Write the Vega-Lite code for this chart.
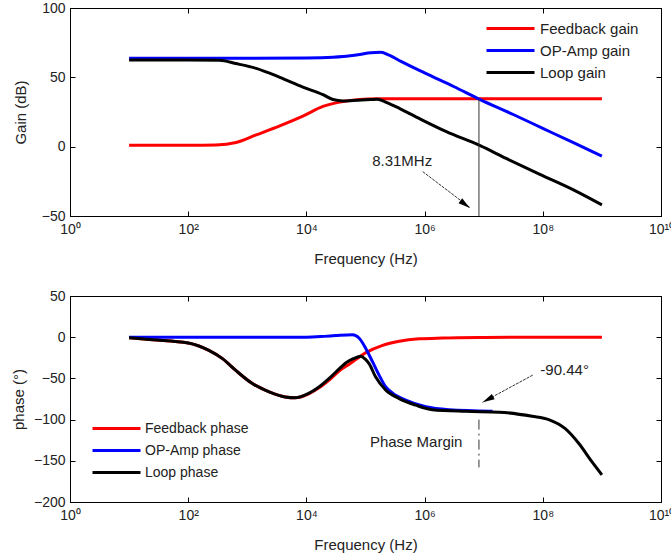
{
  "$schema": "https://vega.github.io/schema/vega-lite/v6.json",
  "padding": {"left": 10, "top": 0, "right": 0, "bottom": 0},
  "background": "white",
  "config": {
    "view": {"stroke": "#000", "strokeWidth": 1},
    "font": "Liberation Sans",
    "axis": {
      "grid": false, "domainColor": "#000", "tickColor": "#000", "tickSize": -5,
      "labelColor": "#222", "titleColor": "#222", "labelFont": "Liberation Sans", "titleFont": "Liberation Sans",
      "labelFontSize": 14, "titleFontSize": 15, "titleFontWeight": "normal", "labelOverlap": false, "labelFlush": false, "labelBound": false
    },
    "legend": {"labelFont": "Liberation Sans", "labelColor": "#222", "labelFontSize": 15, "symbolType": "M-3,0H3", "symbolSize": 256, "symbolStrokeWidth": 3, "labelOffset": 20, "rowPadding": 5, "padding": 0},
    "text": {"font": "Liberation Sans", "fontSize": 15, "color": "#222"}
  },
  "datasets": {
    "gain": [
      {"f": 10, "s": "Feedback gain", "v": 1}, {"f": 100, "s": "Feedback gain", "v": 1}, {"f": 295, "s": "Feedback gain", "v": 1.2}, {"f": 646, "s": "Feedback gain", "v": 3}, {"f": 1413, "s": "Feedback gain", "v": 8.5}, {"f": 3548, "s": "Feedback gain", "v": 15}, {"f": 8710, "s": "Feedback gain", "v": 22}, {"f": 19055, "s": "Feedback gain", "v": 29}, {"f": 41687, "s": "Feedback gain", "v": 32.6}, {"f": 79433, "s": "Feedback gain", "v": 34}, {"f": 158489, "s": "Feedback gain", "v": 34.5}, {"f": 1000000, "s": "Feedback gain", "v": 34.5}, {"f": 10000000, "s": "Feedback gain", "v": 34.5}, {"f": 100000000, "s": "Feedback gain", "v": 34.5}, {"f": 1000000000, "s": "Feedback gain", "v": 34.5},
      {"f": 10, "s": "OP-Amp gain", "v": 63.8}, {"f": 1000, "s": "OP-Amp gain", "v": 63.8}, {"f": 10000, "s": "OP-Amp gain", "v": 64}, {"f": 28184, "s": "OP-Amp gain", "v": 64.5}, {"f": 41687, "s": "OP-Amp gain", "v": 65}, {"f": 79433, "s": "OP-Amp gain", "v": 66.5}, {"f": 123027, "s": "OP-Amp gain", "v": 67.8}, {"f": 181970, "s": "OP-Amp gain", "v": 68}, {"f": 251189, "s": "OP-Amp gain", "v": 66}, {"f": 398107, "s": "OP-Amp gain", "v": 61.5}, {"f": 1000000, "s": "OP-Amp gain", "v": 53.2}, {"f": 3162278, "s": "OP-Amp gain", "v": 43.2}, {"f": 8709636, "s": "OP-Amp gain", "v": 34}, {"f": 31622777, "s": "OP-Amp gain", "v": 23.2}, {"f": 100000000, "s": "OP-Amp gain", "v": 13.2}, {"f": 316227766, "s": "OP-Amp gain", "v": 3.2}, {"f": 1000000000, "s": "OP-Amp gain", "v": -6.8},
      {"f": 10, "s": "Loop gain", "v": 62.5}, {"f": 100, "s": "Loop gain", "v": 62.5}, {"f": 339, "s": "Loop gain", "v": 62.3}, {"f": 631, "s": "Loop gain", "v": 60}, {"f": 1413, "s": "Loop gain", "v": 56.5}, {"f": 3548, "s": "Loop gain", "v": 50}, {"f": 8710, "s": "Loop gain", "v": 43}, {"f": 19055, "s": "Loop gain", "v": 37.5}, {"f": 28184, "s": "Loop gain", "v": 34}, {"f": 41687, "s": "Loop gain", "v": 33}, {"f": 61660, "s": "Loop gain", "v": 33.3}, {"f": 123027, "s": "Loop gain", "v": 34}, {"f": 158489, "s": "Loop gain", "v": 34.2}, {"f": 223872, "s": "Loop gain", "v": 32}, {"f": 380189, "s": "Loop gain", "v": 27.5}, {"f": 933254, "s": "Loop gain", "v": 19}, {"f": 2290868, "s": "Loop gain", "v": 11}, {"f": 8709636, "s": "Loop gain", "v": 0.7}, {"f": 23988329, "s": "Loop gain", "v": -8.5}, {"f": 89125094, "s": "Loop gain", "v": -20}, {"f": 323593657, "s": "Loop gain", "v": -31}, {"f": 1000000000, "s": "Loop gain", "v": -42}
    ],
    "phase": [
      {"f": 10, "s": "Feedback  phase", "v": -0.8}, {"f": 25.1, "s": "Feedback  phase", "v": -3}, {"f": 100, "s": "Feedback  phase", "v": -7}, {"f": 224, "s": "Feedback  phase", "v": -16}, {"f": 380, "s": "Feedback  phase", "v": -26}, {"f": 631, "s": "Feedback  phase", "v": -40}, {"f": 1202, "s": "Feedback  phase", "v": -56}, {"f": 2291, "s": "Feedback  phase", "v": -66}, {"f": 4365, "s": "Feedback  phase", "v": -72.5}, {"f": 6457, "s": "Feedback  phase", "v": -73.5}, {"f": 10715, "s": "Feedback  phase", "v": -69}, {"f": 15849, "s": "Feedback  phase", "v": -62}, {"f": 25119, "s": "Feedback  phase", "v": -51}, {"f": 38905, "s": "Feedback  phase", "v": -39}, {"f": 52481, "s": "Feedback  phase", "v": -33}, {"f": 100000, "s": "Feedback  phase", "v": -19}, {"f": 194984, "s": "Feedback  phase", "v": -10}, {"f": 371535, "s": "Feedback  phase", "v": -5}, {"f": 812831, "s": "Feedback  phase", "v": -2}, {"f": 1995262, "s": "Feedback  phase", "v": -1}, {"f": 10000000, "s": "Feedback  phase", "v": -0.3}, {"f": 100000000, "s": "Feedback  phase", "v": 0}, {"f": 1000000000, "s": "Feedback  phase", "v": 0},
      {"f": 10, "s": "OP-Amp phase", "v": 0}, {"f": 10000, "s": "OP-Amp phase", "v": 0}, {"f": 19953, "s": "OP-Amp phase", "v": 1}, {"f": 31623, "s": "OP-Amp phase", "v": 2}, {"f": 60256, "s": "OP-Amp phase", "v": 3}, {"f": 77625, "s": "OP-Amp phase", "v": -1}, {"f": 100000, "s": "OP-Amp phase", "v": -13}, {"f": 131826, "s": "OP-Amp phase", "v": -30}, {"f": 169824, "s": "OP-Amp phase", "v": -46}, {"f": 218776, "s": "OP-Amp phase", "v": -60}, {"f": 288403, "s": "OP-Amp phase", "v": -68}, {"f": 478630, "s": "OP-Amp phase", "v": -76.5}, {"f": 1047129, "s": "OP-Amp phase", "v": -84.5}, {"f": 2570396, "s": "OP-Amp phase", "v": -88}, {"f": 14125375, "s": "OP-Amp phase", "v": -89.8},
      {"f": 10, "s": "Loop phase", "v": -0.8}, {"f": 25.1, "s": "Loop phase", "v": -3}, {"f": 100, "s": "Loop phase", "v": -7}, {"f": 224, "s": "Loop phase", "v": -16}, {"f": 380, "s": "Loop phase", "v": -26}, {"f": 631, "s": "Loop phase", "v": -40}, {"f": 1202, "s": "Loop phase", "v": -56}, {"f": 2291, "s": "Loop phase", "v": -66}, {"f": 4365, "s": "Loop phase", "v": -72.5}, {"f": 6457, "s": "Loop phase", "v": -73.5}, {"f": 10715, "s": "Loop phase", "v": -68.5}, {"f": 15849, "s": "Loop phase", "v": -61}, {"f": 25119, "s": "Loop phase", "v": -49}, {"f": 38905, "s": "Loop phase", "v": -36}, {"f": 46774, "s": "Loop phase", "v": -31}, {"f": 63096, "s": "Loop phase", "v": -26}, {"f": 83176, "s": "Loop phase", "v": -23}, {"f": 100000, "s": "Loop phase", "v": -27}, {"f": 114815, "s": "Loop phase", "v": -32}, {"f": 147911, "s": "Loop phase", "v": -48}, {"f": 218776, "s": "Loop phase", "v": -64}, {"f": 371535, "s": "Loop phase", "v": -74.5}, {"f": 707946, "s": "Loop phase", "v": -82.5}, {"f": 1348963, "s": "Loop phase", "v": -88}, {"f": 4897788, "s": "Loop phase", "v": -90}, {"f": 18197009, "s": "Loop phase", "v": -91}, {"f": 66069345, "s": "Loop phase", "v": -96}, {"f": 125892541, "s": "Loop phase", "v": -100}, {"f": 239883292, "s": "Loop phase", "v": -111}, {"f": 407380278, "s": "Loop phase", "v": -129}, {"f": 676082975, "s": "Loop phase", "v": -151}, {"f": 1000000000, "s": "Loop phase", "v": -167}
    ],
    "gainRule": [{"f": 8310000, "y1": 34.5, "y2": -50}],
    "gainText": [{"f": 417000, "v": -10, "label": "8.31MHz"}],
    "gainArrow": [{"f1": 930000, "v1": -18, "f2": 5900000, "v2": -44}],
    "gainHead": [{"f": 4850000, "v": -41.6}],
    "phaseRule": [{"f": 8310000, "y1": -100, "y2": -158}],
    "phaseText": [{"f": 234000000, "v": -40, "label": "-90.44°"}, {"f": 720000, "v": -127, "label": "Phase Margin"}],
    "phaseArrow": [{"f1": 67600000, "v1": -46, "f2": 9550000, "v2": -79}],
    "phaseHead": [{"f": 11800000, "v": -75.5}]
  },
  "spacing": 80,
  "bounds": "flush",
  "resolve": {"scale": {"color": "independent"}, "legend": {"color": "independent"}},
  "vconcat": [
    {
      "width": 591, "height": 208,
      "resolve": {"axis": {"x": "independent", "y": "independent"}},
      "layer": [
        {
          "data": {"name": "gain"}, "transform": [{"filter": "datum.s === 'Feedback gain'"}],
          "mark": {"type": "line", "strokeWidth": 3, "interpolate": "monotone"},
          "encoding": {
            "x": {"field": "f", "type": "quantitative", "scale": {"type": "log", "domain": [1, 10000000000]},
              "axis": {"orient": "bottom", "values": [1, 100, 10000, 1000000, 100000000, 10000000000], "labelExpr": "'10' + ['⁰','¹','²','³','⁴','⁵','⁶','⁷','⁸','⁹','¹⁰'][round(log(datum.value)/LN10)]", "labelPadding": 11, "title": "Frequency (Hz)", "titleY": 42, "titleBaseline": "middle"}},
            "y": {"field": "v", "type": "quantitative", "scale": {"domain": [-50, 100], "nice": false, "zero": false},
              "axis": {"orient": "left", "values": [-50, 0, 50, 100], "labelPadding": 10, "title": "Gain (dB)", "titleX": -50, "titleBaseline": "middle"}},
            "color": {"field": "s", "type": "nominal", "scale": {"domain": ["Feedback gain", "OP-Amp gain", "Loop gain"], "range": ["#ff0000", "#0000ff", "#000000"]},
              "legend": {"orient": "none", "legendX": 431, "legendY": 11, "title": null, "rowPadding": 4}}
          }
        },
        {
          "data": {"name": "gain"}, "transform": [{"filter": "datum.s === 'OP-Amp gain'"}],
          "mark": {"type": "line", "strokeWidth": 3, "interpolate": "monotone"},
          "encoding": {
            "x": {"field": "f", "type": "quantitative", "axis": null},
            "y": {"field": "v", "type": "quantitative", "axis": null},
            "color": {"field": "s", "type": "nominal", "scale": {"domain": ["Feedback gain", "OP-Amp gain", "Loop gain"], "range": ["#ff0000", "#0000ff", "#000000"]},
              "legend": {"orient": "none", "legendX": 431, "legendY": 11, "title": null, "rowPadding": 4}}
          }
        },
        {
          "data": {"name": "gain"}, "transform": [{"filter": "datum.s === 'Loop gain'"}],
          "mark": {"type": "line", "strokeWidth": 3, "interpolate": "monotone"},
          "encoding": {
            "x": {"field": "f", "type": "quantitative", "axis": null},
            "y": {"field": "v", "type": "quantitative", "axis": null},
            "color": {"field": "s", "type": "nominal", "scale": {"domain": ["Feedback gain", "OP-Amp gain", "Loop gain"], "range": ["#ff0000", "#0000ff", "#000000"]},
              "legend": {"orient": "none", "legendX": 431, "legendY": 11, "title": null, "rowPadding": 4}}
          }
        },
        {
          "data": {"name": "gainRule"},
          "mark": {"type": "rule", "color": "#333", "strokeWidth": 1},
          "encoding": {
            "x": {"field": "f", "type": "quantitative", "axis": {"orient": "top", "values": [1, 100, 10000, 1000000, 100000000, 10000000000], "labels": false, "title": null}},
            "y": {"field": "y1", "type": "quantitative", "axis": {"orient": "right", "values": [-50, 0, 50, 100], "labels": false, "title": null}},
            "y2": {"field": "y2"}
          }
        },
        {
          "data": {"name": "gainText"},
          "mark": {"type": "text", "align": "center", "baseline": "middle"},
          "encoding": {
            "x": {"field": "f", "type": "quantitative", "axis": null},
            "y": {"field": "v", "type": "quantitative", "axis": null},
            "text": {"field": "label"}
          }
        },
        {
          "data": {"name": "gainArrow"},
          "mark": {"type": "rule", "color": "#333", "strokeWidth": 1, "strokeDash": [3, 1]},
          "encoding": {
            "x": {"field": "f1", "type": "quantitative", "axis": null},
            "y": {"field": "v1", "type": "quantitative", "axis": null},
            "x2": {"field": "f2"},
            "y2": {"field": "v2"}
          }
        },
        {
          "data": {"name": "gainHead"},
          "mark": {"type": "point", "shape": "M0,-1L0.5,1L-0.5,1Z", "size": 144, "filled": true, "color": "#000", "opacity": 1, "angle": 127},
          "encoding": {
            "x": {"field": "f", "type": "quantitative", "axis": null},
            "y": {"field": "v", "type": "quantitative", "axis": null}
          }
        }
      ]
    },
    {
      "width": 591, "height": 206,
      "resolve": {"axis": {"x": "independent", "y": "independent"}},
      "layer": [
        {
          "data": {"name": "phase"}, "transform": [{"filter": "datum.s === 'Feedback  phase'"}],
          "mark": {"type": "line", "strokeWidth": 3, "interpolate": "monotone"},
          "encoding": {
            "x": {"field": "f", "type": "quantitative", "scale": {"type": "log", "domain": [1, 10000000000]},
              "axis": {"orient": "bottom", "values": [1, 100, 10000, 1000000, 100000000, 10000000000], "labelExpr": "'10' + ['⁰','¹','²','³','⁴','⁵','⁶','⁷','⁸','⁹','¹⁰'][round(log(datum.value)/LN10)]", "labelPadding": 11, "title": "Frequency (Hz)", "titleY": 42, "titleBaseline": "middle"}},
            "y": {"field": "v", "type": "quantitative", "scale": {"domain": [-200, 50], "nice": false, "zero": false},
              "axis": {"orient": "left", "values": [-200, -150, -100, -50, 0, 50], "labelPadding": 10, "title": "phase (°)", "titleX": -52, "titleBaseline": "middle"}},
            "color": {"field": "s", "type": "nominal", "scale": {"domain": ["Feedback  phase", "OP-Amp phase", "Loop phase"], "range": ["#ff0000", "#0000ff", "#000000"]},
              "legend": {"orient": "none", "legendX": 37, "legendY": 123, "title": null, "labelFontSize": 14, "labelOffset": 19}}
          }
        },
        {
          "data": {"name": "phase"}, "transform": [{"filter": "datum.s === 'OP-Amp phase'"}],
          "mark": {"type": "line", "strokeWidth": 3, "interpolate": "monotone"},
          "encoding": {
            "x": {"field": "f", "type": "quantitative", "axis": null},
            "y": {"field": "v", "type": "quantitative", "axis": null},
            "color": {"field": "s", "type": "nominal", "scale": {"domain": ["Feedback  phase", "OP-Amp phase", "Loop phase"], "range": ["#ff0000", "#0000ff", "#000000"]},
              "legend": {"orient": "none", "legendX": 37, "legendY": 123, "title": null, "labelFontSize": 14, "labelOffset": 19}}
          }
        },
        {
          "data": {"name": "phase"}, "transform": [{"filter": "datum.s === 'Loop phase'"}],
          "mark": {"type": "line", "strokeWidth": 3, "interpolate": "monotone"},
          "encoding": {
            "x": {"field": "f", "type": "quantitative", "axis": null},
            "y": {"field": "v", "type": "quantitative", "axis": null},
            "color": {"field": "s", "type": "nominal", "scale": {"domain": ["Feedback  phase", "OP-Amp phase", "Loop phase"], "range": ["#ff0000", "#0000ff", "#000000"]},
              "legend": {"orient": "none", "legendX": 37, "legendY": 123, "title": null, "labelFontSize": 14, "labelOffset": 19}}
          }
        },
        {
          "data": {"name": "phaseRule"},
          "mark": {"type": "rule", "color": "#333", "strokeWidth": 1, "strokeDash": [10, 4, 2, 4]},
          "encoding": {
            "x": {"field": "f", "type": "quantitative", "axis": {"orient": "top", "values": [1, 100, 10000, 1000000, 100000000, 10000000000], "labels": false, "title": null}},
            "y": {"field": "y1", "type": "quantitative", "axis": {"orient": "right", "values": [-200, -150, -100, -50, 0, 50], "labels": false, "title": null}},
            "y2": {"field": "y2"}
          }
        },
        {
          "data": {"name": "phaseText"},
          "mark": {"type": "text", "align": "center", "baseline": "middle"},
          "encoding": {
            "x": {"field": "f", "type": "quantitative", "axis": null},
            "y": {"field": "v", "type": "quantitative", "axis": null},
            "text": {"field": "label"}
          }
        },
        {
          "data": {"name": "phaseArrow"},
          "mark": {"type": "rule", "color": "#333", "strokeWidth": 1, "strokeDash": [3, 1]},
          "encoding": {
            "x": {"field": "f1", "type": "quantitative", "axis": null},
            "y": {"field": "v1", "type": "quantitative", "axis": null},
            "x2": {"field": "f2"},
            "y2": {"field": "v2"}
          }
        },
        {
          "data": {"name": "phaseHead"},
          "mark": {"type": "point", "shape": "M0,-1L0.5,1L-0.5,1Z", "size": 144, "filled": true, "color": "#000", "opacity": 1, "angle": 242},
          "encoding": {
            "x": {"field": "f", "type": "quantitative", "axis": null},
            "y": {"field": "v", "type": "quantitative", "axis": null}
          }
        }
      ]
    }
  ]
}
